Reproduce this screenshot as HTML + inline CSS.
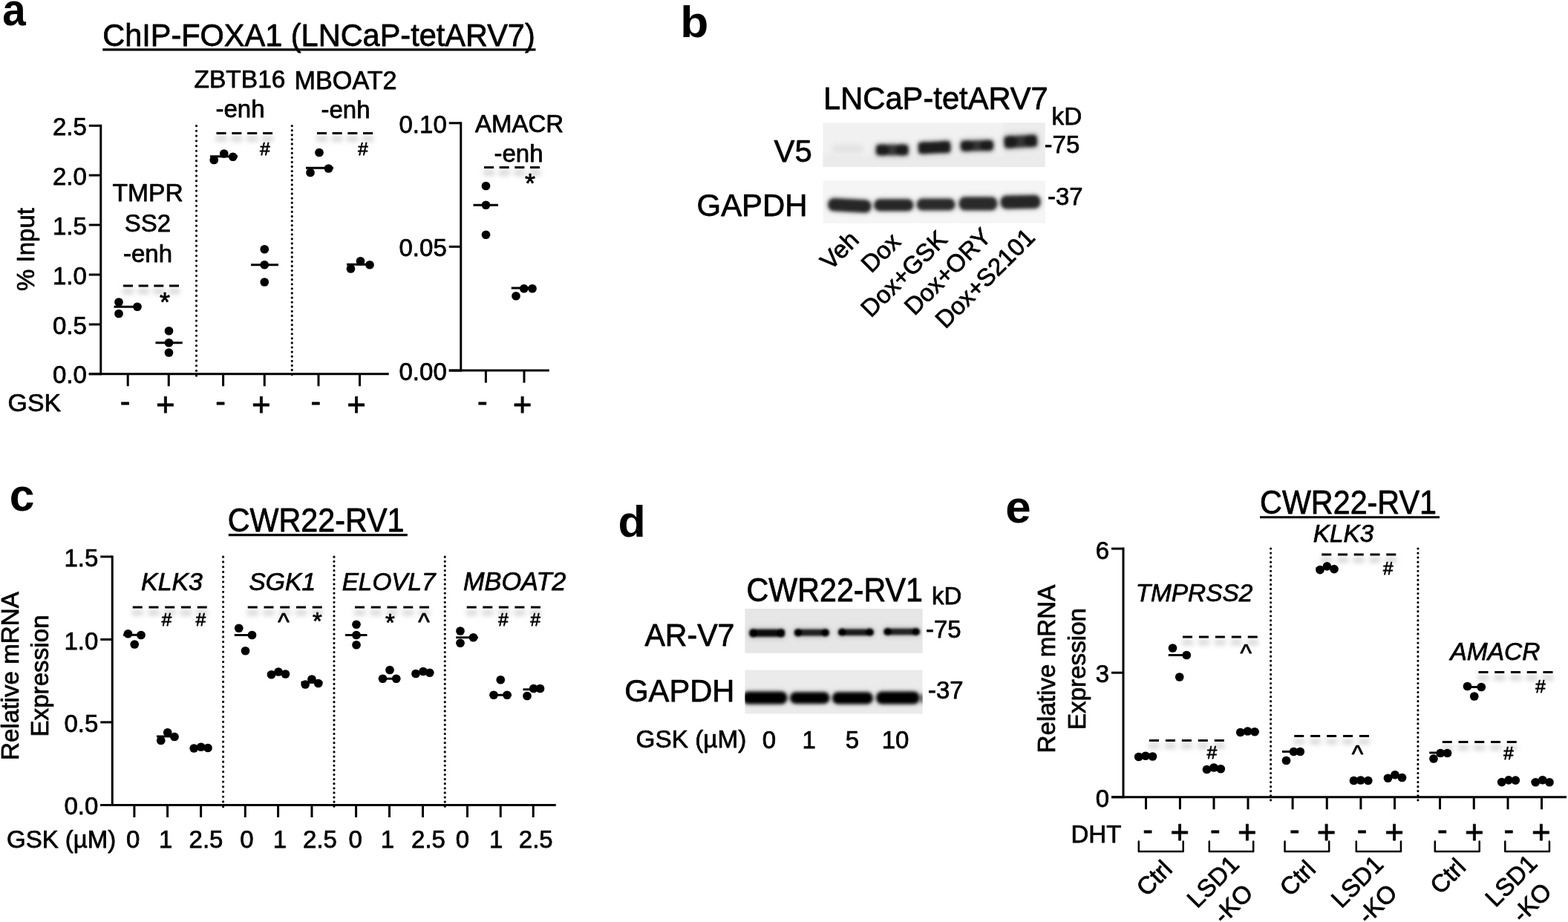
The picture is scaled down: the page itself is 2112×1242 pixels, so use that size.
<!DOCTYPE html>
<html lang="en"><head><meta charset="utf-8"><title>Figure</title>
<style>html,body{margin:0;padding:0;background:#fff;}body{width:2112px;height:1242px;overflow:hidden;}svg{display:block;font-family:"Liberation Sans",Arial,Helvetica,sans-serif;fill:#000;}text{stroke:#000;stroke-width:0.75px;stroke-linejoin:round;}</style>
</head><body>
<svg xmlns="http://www.w3.org/2000/svg" width="2112" height="1242" viewBox="0 0 2112 1242">
<defs><filter id="sh" filterUnits="userSpaceOnUse" x="0" y="0" width="2112" height="1242"><feGaussianBlur stdDeviation="3.2 3"/></filter><filter id="bl" x="-10%" y="-50%" width="120%" height="200%"><feGaussianBlur stdDeviation="1.9"/></filter><filter id="bs" x="-10%" y="-50%" width="120%" height="200%"><feGaussianBlur stdDeviation="1.5"/></filter><filter id="bh" x="-10%" y="-50%" width="120%" height="200%"><feGaussianBlur stdDeviation="3.2"/></filter></defs>
<rect width="2112" height="1242" fill="#fff"/>
<g id="pa">
<text x="0" y="0" font-size="58" font-weight="bold" style="stroke:none" transform="translate(3.34 33.60) scale(0.9765 1.0479)">a</text>
<text x="0" y="0" font-size="41.5" transform="translate(138.2 61.5) scale(1 1.035)">ChIP-FOXA1 (LNCaP-tetARV7)</text>
<line x1="138.2" y1="66.9" x2="721.5" y2="66.9" stroke="#000" stroke-width="3.1" />
<text x="323" y="118" font-size="33.5" text-anchor="middle">ZBTB16</text>
<text x="323.5" y="158" font-size="33" text-anchor="middle">-enh</text>
<text x="465.6" y="120" font-size="34.2" text-anchor="middle">MBOAT2</text>
<text x="465.5" y="159" font-size="33" text-anchor="middle">-enh</text>
<text x="199.1" y="271.25" font-size="33.6" text-anchor="middle">TMPR</text>
<text x="199" y="312" font-size="33" text-anchor="middle">SS2</text>
<text x="199" y="352.5" font-size="33" text-anchor="middle">-enh</text>
<text x="699.5" y="178" font-size="33" text-anchor="middle">AMACR</text>
<text x="698.5" y="218" font-size="33" text-anchor="middle">-enh</text>
<text x="45.5" y="336" font-size="33" text-anchor="middle" transform="rotate(-90 45.5 336)">% Input</text>
<text x="10.6" y="553.6" font-size="33.8">GSK</text>
<line x1="135.75" y1="167.8" x2="135.75" y2="505.25" stroke="#000" stroke-width="3.0" />
<line x1="119.75" y1="169.3" x2="135.75" y2="169.3" stroke="#000" stroke-width="3.0" />
<text x="116.75" y="181.814" font-size="33" text-anchor="end">2.5</text>
<line x1="119.75" y1="236.1" x2="135.75" y2="236.1" stroke="#000" stroke-width="3.0" />
<text x="116.75" y="248.61399999999998" font-size="33" text-anchor="end">2.0</text>
<line x1="119.75" y1="303" x2="135.75" y2="303" stroke="#000" stroke-width="3.0" />
<text x="116.75" y="315.51400000000007" font-size="33" text-anchor="end">1.5</text>
<line x1="119.75" y1="370" x2="135.75" y2="370" stroke="#000" stroke-width="3.0" />
<text x="116.75" y="382.51400000000007" font-size="33" text-anchor="end">1.0</text>
<line x1="119.75" y1="437" x2="135.75" y2="437" stroke="#000" stroke-width="3.0" />
<text x="116.75" y="449.51400000000007" font-size="33" text-anchor="end">0.5</text>
<line x1="119.75" y1="503.75" x2="135.75" y2="503.75" stroke="#000" stroke-width="3.0" />
<text x="116.75" y="516.264" font-size="33" text-anchor="end">0.0</text>
<line x1="119.75" y1="503.75" x2="523.75" y2="503.75" stroke="#000" stroke-width="3.0" />
<line x1="172.2" y1="503.75" x2="172.2" y2="520.25" stroke="#000" stroke-width="3.0" />
<line x1="227.25" y1="503.75" x2="227.25" y2="520.25" stroke="#000" stroke-width="3.0" />
<line x1="300.6" y1="503.75" x2="300.6" y2="520.25" stroke="#000" stroke-width="3.0" />
<line x1="356.25" y1="503.75" x2="356.25" y2="520.25" stroke="#000" stroke-width="3.0" />
<line x1="429" y1="503.75" x2="429" y2="520.25" stroke="#000" stroke-width="3.0" />
<line x1="484.5" y1="503.75" x2="484.5" y2="520.25" stroke="#000" stroke-width="3.0" />
<line x1="264.5" y1="169.6" x2="264.5" y2="507" stroke="#000" stroke-width="3.2" stroke-linecap="round" stroke-dasharray="0.01 6.72"/>
<line x1="393.25" y1="169.6" x2="393.25" y2="507" stroke="#000" stroke-width="3.2" stroke-linecap="round" stroke-dasharray="0.01 6.08"/>
<text x="168.6" y="554.0" font-size="41" text-anchor="middle">-</text>
<text x="222.95" y="560.1" font-size="44" text-anchor="middle">+</text>
<text x="297.0" y="554.0" font-size="41" text-anchor="middle">-</text>
<text x="351.95" y="560.1" font-size="44" text-anchor="middle">+</text>
<text x="425.4" y="554.0" font-size="41" text-anchor="middle">-</text>
<text x="480.2" y="560.1" font-size="44" text-anchor="middle">+</text>
<line x1="620.75" y1="164.3" x2="620.75" y2="500.6" stroke="#000" stroke-width="3.0" />
<line x1="604.75" y1="165.8" x2="620.75" y2="165.8" stroke="#000" stroke-width="3.0" />
<text x="601.75" y="178.714" font-size="33" text-anchor="end">0.10</text>
<line x1="604.75" y1="332.3" x2="620.75" y2="332.3" stroke="#000" stroke-width="3.0" />
<text x="601.75" y="345.21400000000006" font-size="33" text-anchor="end">0.05</text>
<line x1="604.75" y1="499.1" x2="620.75" y2="499.1" stroke="#000" stroke-width="3.0" />
<text x="601.75" y="512.014" font-size="33" text-anchor="end">0.00</text>
<line x1="604.75" y1="499.1" x2="739.75" y2="499.1" stroke="#000" stroke-width="3.0" />
<line x1="654.4" y1="499.1" x2="654.4" y2="515.6" stroke="#000" stroke-width="3.0" />
<line x1="706" y1="499.1" x2="706" y2="515.6" stroke="#000" stroke-width="3.0" />
<text x="649.8" y="554.0" font-size="41" text-anchor="middle">-</text>
<text x="703.5" y="560.1" font-size="44" text-anchor="middle">+</text>
<line x1="165" y1="392.5" x2="242" y2="392.5" stroke="#d8d8d8" stroke-width="7.5" stroke-dasharray="15.00 5.67" filter="url(#sh)"/>
<line x1="166" y1="385" x2="241" y2="385" stroke="#000" stroke-width="3" stroke-dasharray="13.00 7.67"/>
<line x1="290.5" y1="187.0" x2="368" y2="187.0" stroke="#d8d8d8" stroke-width="7.5" stroke-dasharray="15.00 5.83" filter="url(#sh)"/>
<line x1="291.5" y1="179.5" x2="367" y2="179.5" stroke="#000" stroke-width="3" stroke-dasharray="13.00 7.83"/>
<line x1="426" y1="187.0" x2="503" y2="187.0" stroke="#d8d8d8" stroke-width="7.5" stroke-dasharray="15.00 5.67" filter="url(#sh)"/>
<line x1="427" y1="179.5" x2="502" y2="179.5" stroke="#000" stroke-width="3" stroke-dasharray="13.00 7.67"/>
<line x1="651" y1="233.0" x2="728" y2="233.0" stroke="#d8d8d8" stroke-width="7.5" stroke-dasharray="15.00 5.67" filter="url(#sh)"/>
<line x1="652" y1="225.5" x2="727" y2="225.5" stroke="#000" stroke-width="3" stroke-dasharray="13.00 7.67"/>
<text x="222" y="419.6" font-size="36" text-anchor="middle">*</text>
<text x="356.5" y="209.0" font-size="24.5" text-anchor="middle" font-style="italic">#</text>
<text x="488.5" y="209.0" font-size="24.5" text-anchor="middle" font-style="italic">#</text>
<text x="714" y="259.5" font-size="36" text-anchor="middle">*</text>
<circle cx="160" cy="407" r="5.85"/>
<circle cx="185" cy="413.25" r="5.85"/>
<circle cx="160" cy="422.5" r="5.85"/>
<line x1="153.5" y1="413.25" x2="190" y2="413.25" stroke="#000" stroke-width="2.9" />
<circle cx="227.5" cy="445.75" r="5.85"/>
<circle cx="227.5" cy="461.75" r="5.85"/>
<circle cx="227.5" cy="475" r="5.85"/>
<line x1="209.5" y1="461.75" x2="245.75" y2="461.75" stroke="#000" stroke-width="2.9" />
<circle cx="288.25" cy="215.5" r="5.85"/>
<circle cx="301.75" cy="207" r="5.85"/>
<circle cx="313.75" cy="211.25" r="5.85"/>
<line x1="283" y1="210.8" x2="320" y2="210.8" stroke="#000" stroke-width="2.9" />
<circle cx="356.25" cy="335.75" r="5.85"/>
<circle cx="356.25" cy="356.75" r="5.85"/>
<circle cx="356.25" cy="380" r="5.85"/>
<line x1="338" y1="356.75" x2="375" y2="356.75" stroke="#000" stroke-width="2.9" />
<circle cx="430" cy="205.5" r="5.85"/>
<circle cx="418" cy="232.5" r="5.85"/>
<circle cx="442.5" cy="227" r="5.85"/>
<line x1="412" y1="226.25" x2="449" y2="226.25" stroke="#000" stroke-width="2.9" />
<circle cx="472.5" cy="362" r="5.85"/>
<circle cx="485.5" cy="351.75" r="5.85"/>
<circle cx="498" cy="356.75" r="5.85"/>
<line x1="467" y1="356.25" x2="503" y2="356.25" stroke="#000" stroke-width="2.9" />
<circle cx="654.5" cy="250.5" r="5.85"/>
<circle cx="654.5" cy="276.25" r="5.85"/>
<circle cx="654.5" cy="316.25" r="5.85"/>
<line x1="637.5" y1="276.25" x2="671" y2="276.25" stroke="#000" stroke-width="2.9" />
<circle cx="695" cy="398.75" r="5.85"/>
<circle cx="705.75" cy="388.75" r="5.85"/>
<circle cx="717" cy="388.75" r="5.85"/>
<line x1="688.75" y1="388" x2="722" y2="388" stroke="#000" stroke-width="2.9" />
</g>
<g id="pb">
<text x="0" y="0" font-size="58" font-weight="bold" style="stroke:none" transform="translate(916.29 49.72) scale(1.0744 1.0259)">b</text>
<text x="0" y="0" font-size="41.7" transform="translate(1109 147.3) scale(1 1.025)">LNCaP-tetARV7</text>
<text x="1416.5" y="168.3" font-size="33.3">kD</text>
<text x="1406.6" y="205.7" font-size="33">-75</text>
<text x="1411" y="276" font-size="33">-37</text>
<text x="1042.5" y="217.8" font-size="41.9">V5</text>
<text x="938.6" y="291.2" font-size="41.9">GAPDH</text>
<text x="1158.75" y="325" font-size="33" text-anchor="end" transform="rotate(-45 1158.75 325)">Veh</text>
<text x="1215" y="327.5" font-size="33" text-anchor="end" transform="rotate(-45 1215 327.5)">Dox</text>
<text x="1277.5" y="324.5" font-size="33" text-anchor="end" transform="rotate(-45 1277.5 324.5)">Dox+GSK</text>
<text x="1337" y="321" font-size="33" text-anchor="end" transform="rotate(-45 1337 321)">Dox+ORY</text>
<text x="1396" y="321.5" font-size="33" text-anchor="end" transform="rotate(-45 1396 321.5)">Dox+S2101</text>
<clipPath id="bc1"><rect x="1108.5" y="165.5" width="299.0" height="59.5"/></clipPath>
<g clip-path="url(#bc1)">
<rect x="1103.5" y="160.5" width="309.0" height="69.5" fill="#f1f1f1"/>
<rect x="1352" y="160" width="60" height="70" fill="#ececec"/><rect x="1121" y="194" width="42" height="14" rx="5" fill="#e4e4e4" filter="url(#bh)"/><rect x="1100" y="208" width="320" height="20" fill="#ebebeb" filter="url(#bh)"/>
<g filter="url(#bh)" opacity="0.55">
<rect x="1177.80" y="192.40" width="48.00" height="19.20" rx="6.20" fill="#8a8a8a"/>
<rect x="1234.80" y="188.60" width="47.70" height="20.20" rx="6.20" fill="#8a8a8a" transform="rotate(-2.5 1258.65 198.7)"/>
<rect x="1291.80" y="186.90" width="48.40" height="18.70" rx="6.20" fill="#8a8a8a" transform="rotate(-1.5 1316.0 196.25)"/>
<rect x="1350.30" y="180.20" width="48.90" height="20.80" rx="6.20" fill="#8a8a8a" transform="rotate(-3 1374.75 190.60000000000002)"/>
</g>
<g filter="url(#bl)">
<rect x="1180.30" y="194.90" width="43.00" height="14.20" rx="3.70" fill="#383838"/>
<ellipse cx="1189.00" cy="202.00" rx="9" ry="7.40" fill="#1c1c1c"/>
<ellipse cx="1214.60" cy="202.00" rx="9" ry="7.40" fill="#1c1c1c"/>
<rect x="1237.30" y="191.10" width="42.70" height="15.20" rx="3.70" fill="#1c1c1c" transform="rotate(-2.5 1258.65 198.7)"/>
<ellipse cx="1246.00" cy="198.70" rx="9" ry="7.90" fill="#1c1c1c" transform="rotate(-2.5 1258.65 198.7)"/>
<ellipse cx="1271.30" cy="198.70" rx="9" ry="7.90" fill="#1c1c1c" transform="rotate(-2.5 1258.65 198.7)"/>
<rect x="1294.30" y="189.40" width="43.40" height="13.70" rx="3.70" fill="#343434" transform="rotate(-1.5 1316.0 196.25)"/>
<ellipse cx="1303.00" cy="196.25" rx="9" ry="7.15" fill="#1c1c1c" transform="rotate(-1.5 1316.0 196.25)"/>
<ellipse cx="1329.00" cy="196.25" rx="9" ry="7.15" fill="#1c1c1c" transform="rotate(-1.5 1316.0 196.25)"/>
<rect x="1352.80" y="182.70" width="43.90" height="15.80" rx="3.70" fill="#363636" transform="rotate(-3 1374.75 190.60000000000002)"/>
<ellipse cx="1361.50" cy="190.60" rx="9" ry="8.20" fill="#1c1c1c" transform="rotate(-3 1374.75 190.60000000000002)"/>
<ellipse cx="1388.00" cy="190.60" rx="9" ry="8.20" fill="#1c1c1c" transform="rotate(-3 1374.75 190.60000000000002)"/>
</g>
</g>
<clipPath id="bc2"><rect x="1108.5" y="243.5" width="299.5" height="57.5"/></clipPath>
<g clip-path="url(#bc2)">
<rect x="1103.5" y="238.5" width="309.5" height="67.5" fill="#f5f5f5"/>
<g filter="url(#bh)" opacity="0.5">
<rect x="1113.70" y="266.50" width="61.30" height="20.50" rx="9.50" fill="#8a8a8a" transform="rotate(3 1144.35 276.75)"/>
<rect x="1175.80" y="266.80" width="56.00" height="18.90" rx="9.00" fill="#8a8a8a"/>
<rect x="1233.30" y="266.00" width="54.60" height="18.90" rx="9.00" fill="#8a8a8a"/>
<rect x="1290.20" y="263.70" width="54.50" height="21.20" rx="9.50" fill="#8a8a8a"/>
<rect x="1346.20" y="261.50" width="56.80" height="21.20" rx="9.50" fill="#8a8a8a" transform="rotate(-1 1374.6 272.1)"/>
</g>
<g filter="url(#bl)">
<rect x="1115.50" y="268.30" width="57.70" height="16.90" rx="7.70" fill="#262626" transform="rotate(3 1144.35 276.75)"/>
<rect x="1177.60" y="268.60" width="52.40" height="15.30" rx="7.20" fill="#262626"/>
<rect x="1235.10" y="267.80" width="51.00" height="15.30" rx="7.20" fill="#2c2c2c"/>
<rect x="1292.00" y="265.50" width="50.90" height="17.60" rx="7.70" fill="#2c2c2c"/>
<rect x="1348.00" y="263.30" width="53.20" height="17.60" rx="7.70" fill="#282828" transform="rotate(-1 1374.6 272.1)"/>
</g>
</g>
</g>
<g id="pc">
<text x="0" y="0" font-size="58" font-weight="bold" style="stroke:none" transform="translate(12.74 688.10) scale(1.0427 1.0573)">c</text>
<text x="0" y="0" font-size="41.3" transform="translate(425.6 715.9) scale(1 1.09)" text-anchor="middle">CWR22-RV1</text>
<line x1="307.8" y1="720.6" x2="548.8" y2="720.6" stroke="#000" stroke-width="3.1" />
<text x="24.5" y="910.5" font-size="33.2" text-anchor="middle" transform="rotate(-90 24.5 910.5)">Relative mRNA</text>
<text x="64.5" y="910.5" font-size="33.2" text-anchor="middle" transform="rotate(-90 64.5 910.5)">Expression</text>
<line x1="151.25" y1="748.4" x2="151.25" y2="1086.0" stroke="#000" stroke-width="3.0" />
<line x1="135.25" y1="749.9" x2="151.25" y2="749.9" stroke="#000" stroke-width="3.0" />
<text x="132.25" y="763.314" font-size="33" text-anchor="end">1.5</text>
<line x1="135.25" y1="861.4" x2="151.25" y2="861.4" stroke="#000" stroke-width="3.0" />
<text x="132.25" y="874.514" font-size="33" text-anchor="end">1.0</text>
<line x1="135.25" y1="972.9" x2="151.25" y2="972.9" stroke="#000" stroke-width="3.0" />
<text x="132.25" y="985.6139999999999" font-size="33" text-anchor="end">0.5</text>
<line x1="135.25" y1="1084.5" x2="151.25" y2="1084.5" stroke="#000" stroke-width="3.0" />
<text x="132.25" y="1096.714" font-size="33" text-anchor="end">0.0</text>
<line x1="135.25" y1="1084.5" x2="748.75" y2="1084.5" stroke="#000" stroke-width="3.0" />
<line x1="180.9" y1="1084.5" x2="180.9" y2="1101.0" stroke="#000" stroke-width="3.0" />
<line x1="225.6" y1="1084.5" x2="225.6" y2="1101.0" stroke="#000" stroke-width="3.0" />
<line x1="270.6" y1="1084.5" x2="270.6" y2="1101.0" stroke="#000" stroke-width="3.0" />
<line x1="330.3" y1="1084.5" x2="330.3" y2="1101.0" stroke="#000" stroke-width="3.0" />
<line x1="374.6" y1="1084.5" x2="374.6" y2="1101.0" stroke="#000" stroke-width="3.0" />
<line x1="420" y1="1084.5" x2="420" y2="1101.0" stroke="#000" stroke-width="3.0" />
<line x1="479.6" y1="1084.5" x2="479.6" y2="1101.0" stroke="#000" stroke-width="3.0" />
<line x1="524.5" y1="1084.5" x2="524.5" y2="1101.0" stroke="#000" stroke-width="3.0" />
<line x1="569.5" y1="1084.5" x2="569.5" y2="1101.0" stroke="#000" stroke-width="3.0" />
<line x1="629.5" y1="1084.5" x2="629.5" y2="1101.0" stroke="#000" stroke-width="3.0" />
<line x1="674.25" y1="1084.5" x2="674.25" y2="1101.0" stroke="#000" stroke-width="3.0" />
<line x1="718.25" y1="1084.5" x2="718.25" y2="1101.0" stroke="#000" stroke-width="3.0" />
<line x1="300.6" y1="750.2" x2="300.6" y2="1088" stroke="#000" stroke-width="3.2" stroke-linecap="round" stroke-dasharray="0.01 6.72"/>
<line x1="450" y1="750.2" x2="450" y2="1088" stroke="#000" stroke-width="3.2" stroke-linecap="round" stroke-dasharray="0.01 6.1"/>
<line x1="599.25" y1="750.2" x2="599.25" y2="1088" stroke="#000" stroke-width="3.2" stroke-linecap="round" stroke-dasharray="0.01 6.1"/>
<text x="9" y="1141.5" font-size="33">GSK (µM)</text>
<text x="179.25" y="1141.5" font-size="33" text-anchor="middle">0</text>
<text x="223.25" y="1141.5" font-size="33" text-anchor="middle">1</text>
<text x="277.5" y="1141.5" font-size="33" text-anchor="middle">2.5</text>
<text x="332.5" y="1141.5" font-size="33" text-anchor="middle">0</text>
<text x="377" y="1141.5" font-size="33" text-anchor="middle">1</text>
<text x="431" y="1141.5" font-size="33" text-anchor="middle">2.5</text>
<text x="478.75" y="1141.5" font-size="33" text-anchor="middle">0</text>
<text x="522" y="1141.5" font-size="33" text-anchor="middle">1</text>
<text x="577" y="1141.5" font-size="33" text-anchor="middle">2.5</text>
<text x="623" y="1141.5" font-size="33" text-anchor="middle">0</text>
<text x="668.25" y="1141.5" font-size="33" text-anchor="middle">1</text>
<text x="721.75" y="1141.5" font-size="33" text-anchor="middle">2.5</text>
<text x="231.5" y="795" font-size="33.9" text-anchor="middle" font-style="italic">KLK3</text>
<text x="380.2" y="795" font-size="33.7" text-anchor="middle" font-style="italic">SGK1</text>
<text x="523.6" y="795" font-size="33.3" text-anchor="middle" font-style="italic">ELOVL7</text>
<text x="693.2" y="795" font-size="34.3" text-anchor="middle" font-style="italic">MBOAT2</text>
<line x1="177.75" y1="825.5" x2="279.75" y2="825.5" stroke="#d8d8d8" stroke-width="7.5" stroke-dasharray="15.00 6.75" filter="url(#sh)"/>
<line x1="178.75" y1="818" x2="278.75" y2="818" stroke="#000" stroke-width="3" stroke-dasharray="13.00 8.75"/>
<line x1="332.75" y1="825.5" x2="434.75" y2="825.5" stroke="#d8d8d8" stroke-width="7.5" stroke-dasharray="15.00 6.75" filter="url(#sh)"/>
<line x1="333.75" y1="818" x2="433.75" y2="818" stroke="#000" stroke-width="3" stroke-dasharray="13.00 8.75"/>
<line x1="477" y1="825.5" x2="579" y2="825.5" stroke="#d8d8d8" stroke-width="7.5" stroke-dasharray="15.00 6.75" filter="url(#sh)"/>
<line x1="478" y1="818" x2="578" y2="818" stroke="#000" stroke-width="3" stroke-dasharray="13.00 8.75"/>
<line x1="627.75" y1="825.5" x2="729" y2="825.5" stroke="#d8d8d8" stroke-width="7.5" stroke-dasharray="15.00 6.56" filter="url(#sh)"/>
<line x1="628.75" y1="818" x2="728" y2="818" stroke="#000" stroke-width="3" stroke-dasharray="13.00 8.56"/>
<text x="224" y="842.5" font-size="24.5" text-anchor="middle" font-style="italic">#</text>
<text x="270" y="842.5" font-size="24.5" text-anchor="middle" font-style="italic">#</text>
<text x="382" y="849" font-size="33" text-anchor="middle">^</text>
<text x="427.5" y="847.5" font-size="33" text-anchor="middle">*</text>
<text x="525.5" y="849.5" font-size="33" text-anchor="middle">*</text>
<text x="571" y="849" font-size="33" text-anchor="middle">^</text>
<text x="677.5" y="842.5" font-size="24.5" text-anchor="middle" font-style="italic">#</text>
<text x="720.75" y="842.5" font-size="24.5" text-anchor="middle" font-style="italic">#</text>
<circle cx="172.5" cy="853.75" r="5.85"/>
<circle cx="190" cy="855.5" r="5.85"/>
<circle cx="181.25" cy="868" r="5.85"/>
<line x1="166" y1="855.3" x2="195" y2="855.3" stroke="#000" stroke-width="2.9" />
<circle cx="216.75" cy="997.5" r="5.85"/>
<circle cx="225.75" cy="986.75" r="5.85"/>
<circle cx="235" cy="992.5" r="5.85"/>
<line x1="211" y1="992" x2="240" y2="992" stroke="#000" stroke-width="2.9" />
<circle cx="261.25" cy="1008" r="5.85"/>
<circle cx="270.75" cy="1006.25" r="5.85"/>
<circle cx="280" cy="1007.5" r="5.85"/>
<line x1="256" y1="1007.3" x2="285" y2="1007.3" stroke="#000" stroke-width="2.9" />
<circle cx="321.75" cy="846.25" r="5.85"/>
<circle cx="339.5" cy="855.5" r="5.85"/>
<circle cx="330.5" cy="876.75" r="5.85"/>
<line x1="315.75" y1="855.5" x2="345" y2="855.5" stroke="#000" stroke-width="2.9" />
<circle cx="365.5" cy="908.75" r="5.85"/>
<circle cx="375" cy="905" r="5.85"/>
<circle cx="384.5" cy="908" r="5.85"/>
<line x1="360" y1="907.3" x2="389.5" y2="907.3" stroke="#000" stroke-width="2.9" />
<circle cx="411.25" cy="922" r="5.85"/>
<circle cx="420" cy="915" r="5.85"/>
<circle cx="428.75" cy="920.5" r="5.85"/>
<line x1="405.5" y1="919.2" x2="434.5" y2="919.2" stroke="#000" stroke-width="2.9" />
<circle cx="480" cy="841.25" r="5.85"/>
<circle cx="480" cy="855.5" r="5.85"/>
<circle cx="480" cy="868.75" r="5.85"/>
<line x1="465" y1="855.5" x2="494.5" y2="855.5" stroke="#000" stroke-width="2.9" />
<circle cx="515.5" cy="914.25" r="5.85"/>
<circle cx="525" cy="902.5" r="5.85"/>
<circle cx="533.75" cy="914.25" r="5.85"/>
<line x1="510" y1="914.25" x2="539" y2="914.25" stroke="#000" stroke-width="2.9" />
<circle cx="560" cy="907.5" r="5.85"/>
<circle cx="570" cy="904.5" r="5.85"/>
<circle cx="578.75" cy="906.25" r="5.85"/>
<line x1="555" y1="906" x2="584" y2="906" stroke="#000" stroke-width="2.9" />
<circle cx="620" cy="850" r="5.85"/>
<circle cx="637.5" cy="858.75" r="5.85"/>
<circle cx="620" cy="866.25" r="5.85"/>
<line x1="614.25" y1="858.75" x2="643.75" y2="858.75" stroke="#000" stroke-width="2.9" />
<circle cx="674.25" cy="915.75" r="5.85"/>
<circle cx="665" cy="936.25" r="5.85"/>
<circle cx="683" cy="936.25" r="5.85"/>
<line x1="660" y1="936.25" x2="689" y2="936.25" stroke="#000" stroke-width="2.9" />
<circle cx="710" cy="937.5" r="5.85"/>
<circle cx="718.75" cy="927.5" r="5.85"/>
<circle cx="727.5" cy="927.5" r="5.85"/>
<line x1="704.5" y1="928.75" x2="733" y2="928.75" stroke="#000" stroke-width="2.9" />
</g>
<g id="pd">
<text x="0" y="0" font-size="58" font-weight="bold" style="stroke:none" transform="translate(832.40 722.53) scale(1.0504 1.0095)">d</text>
<text x="0" y="0" font-size="41.25" transform="translate(1005.5 810.2) scale(1 1.085)">CWR22-RV1</text>
<text x="1255" y="813.75" font-size="33">kD</text>
<text x="1247" y="858.75" font-size="33">-75</text>
<text x="1250" y="941" font-size="33">-37</text>
<text x="0" y="0" font-size="41.1" transform="translate(868.4 870.4) scale(1 1.045)">AR-V7</text>
<text x="841.2" y="945" font-size="41.7">GAPDH</text>
<text x="856.6" y="1007" font-size="33.3">GSK (µM)</text>
<text x="1036" y="1007.5" font-size="33" text-anchor="middle">0</text>
<text x="1089.75" y="1007.5" font-size="33" text-anchor="middle">1</text>
<text x="1148" y="1007.5" font-size="33" text-anchor="middle">5</text>
<text x="1206" y="1007.5" font-size="33" text-anchor="middle">10</text>
<clipPath id="bc3"><rect x="1003.4" y="820" width="239.19999999999993" height="59.700000000000045"/></clipPath>
<g clip-path="url(#bc3)">
<rect x="998.4" y="815" width="249.19999999999993" height="69.70000000000005" fill="#e6e6e6"/>
<g filter="url(#bh)" opacity="0.5">
<rect x="1008.10" y="845.80" width="50.40" height="14.00" rx="5.20" fill="#8a8a8a"/>
<rect x="1068.60" y="845.70" width="49.40" height="12.90" rx="5.20" fill="#8a8a8a"/>
<rect x="1127.80" y="845.40" width="50.20" height="12.60" rx="5.20" fill="#8a8a8a"/>
<rect x="1189.20" y="844.80" width="51.00" height="12.40" rx="5.20" fill="#8a8a8a"/>
</g>
<g filter="url(#bs)">
<rect x="1009.60" y="847.80" width="47.40" height="10.00" rx="3.20" fill="#0a0a0a"/>
<ellipse cx="1014.80" cy="852.80" rx="5.5" ry="5.80" fill="#000"/>
<ellipse cx="1051.80" cy="852.80" rx="5.5" ry="5.80" fill="#000"/>
<rect x="1070.10" y="847.70" width="46.40" height="8.90" rx="3.20" fill="#202020"/>
<ellipse cx="1075.30" cy="852.15" rx="5.5" ry="5.25" fill="#000"/>
<ellipse cx="1111.30" cy="852.15" rx="5.5" ry="5.25" fill="#000"/>
<rect x="1129.30" y="847.40" width="47.20" height="8.60" rx="3.20" fill="#1a1a1a"/>
<ellipse cx="1134.50" cy="851.70" rx="5.5" ry="5.10" fill="#000"/>
<ellipse cx="1171.30" cy="851.70" rx="5.5" ry="5.10" fill="#000"/>
<rect x="1190.70" y="846.80" width="48.00" height="8.40" rx="3.20" fill="#202020"/>
<ellipse cx="1195.90" cy="851.00" rx="5.5" ry="5.00" fill="#000"/>
<ellipse cx="1233.50" cy="851.00" rx="5.5" ry="5.00" fill="#000"/>
</g>
</g>
<clipPath id="bc4"><rect x="1003.4" y="902.5" width="239.19999999999993" height="59.0"/></clipPath>
<g clip-path="url(#bc4)">
<rect x="998.4" y="897.5" width="249.19999999999993" height="69.0" fill="#ebebeb"/>
<g filter="url(#bh)" opacity="0.5">
<rect x="999.00" y="930.50" width="62.50" height="19.00" rx="9.00" fill="#8a8a8a"/>
<rect x="1063.00" y="931.30" width="55.50" height="17.70" rx="8.50" fill="#8a8a8a"/>
<rect x="1120.00" y="931.30" width="56.80" height="18.20" rx="8.50" fill="#8a8a8a"/>
<rect x="1179.00" y="930.50" width="60.70" height="19.00" rx="9.00" fill="#8a8a8a"/>
<rect x="1239.50" y="934.00" width="5.50" height="14.00" rx="2.00" fill="#8a8a8a"/>
</g>
<g filter="url(#bl)">
<rect x="1000.30" y="931.80" width="59.90" height="16.40" rx="7.70" fill="#000"/>
<rect x="1064.30" y="932.60" width="52.90" height="15.10" rx="7.20" fill="#000"/>
<rect x="1121.30" y="932.60" width="54.20" height="15.60" rx="7.20" fill="#000"/>
<rect x="1180.30" y="931.80" width="58.10" height="16.40" rx="7.70" fill="#000"/>
<rect x="1240.80" y="935.30" width="2.90" height="11.40" rx="1.00" fill="#222"/>
</g>
</g>
</g>
<g id="pe">
<text x="0" y="0" font-size="58" font-weight="bold" style="stroke:none" transform="translate(1354.28 704.40) scale(1.0675 1.0479)">e</text>
<text x="0" y="0" font-size="41.3" transform="translate(1816 691.8) scale(1 1.085)" text-anchor="middle">CWR22-RV1</text>
<line x1="1697" y1="696.7" x2="1939" y2="696.7" stroke="#000" stroke-width="3.1" />
<text x="1809.5" y="730.1" font-size="33.4" text-anchor="middle" font-style="italic">KLK3</text>
<text x="1608.5" y="809.7" font-size="33.4" text-anchor="middle" font-style="italic">TMPRSS2</text>
<text x="2014" y="889" font-size="33.5" text-anchor="middle" font-style="italic">AMACR</text>
<text x="1420.5" y="901" font-size="33.2" text-anchor="middle" transform="rotate(-90 1420.5 901)">Relative mRNA</text>
<text x="1461.5" y="901" font-size="33.2" text-anchor="middle" transform="rotate(-90 1461.5 901)">Expression</text>
<line x1="1513" y1="737.6" x2="1513" y2="1075.25" stroke="#000" stroke-width="3.0" />
<line x1="1497" y1="739.1" x2="1513" y2="739.1" stroke="#000" stroke-width="3.0" />
<text x="1494" y="752.514" font-size="33" text-anchor="end">6</text>
<line x1="1497" y1="906.2" x2="1513" y2="906.2" stroke="#000" stroke-width="3.0" />
<text x="1494" y="918.614" font-size="33" text-anchor="end">3</text>
<line x1="1497" y1="1073.75" x2="1513" y2="1073.75" stroke="#000" stroke-width="3.0" />
<text x="1494" y="1087.164" font-size="33" text-anchor="end">0</text>
<line x1="1497" y1="1073.75" x2="2110" y2="1073.75" stroke="#000" stroke-width="3.0" />
<line x1="1543.5" y1="1073.75" x2="1543.5" y2="1090.25" stroke="#000" stroke-width="3.0" />
<line x1="1589.4" y1="1073.75" x2="1589.4" y2="1090.25" stroke="#000" stroke-width="3.0" />
<line x1="1635" y1="1073.75" x2="1635" y2="1090.25" stroke="#000" stroke-width="3.0" />
<line x1="1681" y1="1073.75" x2="1681" y2="1090.25" stroke="#000" stroke-width="3.0" />
<line x1="1741.1" y1="1073.75" x2="1741.1" y2="1090.25" stroke="#000" stroke-width="3.0" />
<line x1="1787.25" y1="1073.75" x2="1787.25" y2="1090.25" stroke="#000" stroke-width="3.0" />
<line x1="1832.9" y1="1073.75" x2="1832.9" y2="1090.25" stroke="#000" stroke-width="3.0" />
<line x1="1878.5" y1="1073.75" x2="1878.5" y2="1090.25" stroke="#000" stroke-width="3.0" />
<line x1="1939.5" y1="1073.75" x2="1939.5" y2="1090.25" stroke="#000" stroke-width="3.0" />
<line x1="1985.25" y1="1073.75" x2="1985.25" y2="1090.25" stroke="#000" stroke-width="3.0" />
<line x1="2031" y1="1073.75" x2="2031" y2="1090.25" stroke="#000" stroke-width="3.0" />
<line x1="2076.5" y1="1073.75" x2="2076.5" y2="1090.25" stroke="#000" stroke-width="3.0" />
<line x1="1711.6" y1="739" x2="1711.6" y2="1078" stroke="#000" stroke-width="3.2" stroke-linecap="round" stroke-dasharray="0.01 6.04"/>
<line x1="1909.9" y1="739" x2="1909.9" y2="1078" stroke="#000" stroke-width="3.2" stroke-linecap="round" stroke-dasharray="0.01 6.04"/>
<text x="1442.5" y="1134.75" font-size="33">DHT</text>
<text x="1546.1" y="1130.6" font-size="41" text-anchor="middle">-</text>
<text x="1589.0" y="1135.7" font-size="44" text-anchor="middle">+</text>
<text x="1636.9" y="1130.6" font-size="41" text-anchor="middle">-</text>
<text x="1679.9" y="1135.7" font-size="44" text-anchor="middle">+</text>
<text x="1743.85" y="1130.6" font-size="41" text-anchor="middle">-</text>
<text x="1786.65" y="1135.7" font-size="44" text-anchor="middle">+</text>
<text x="1834.5" y="1130.6" font-size="41" text-anchor="middle">-</text>
<text x="1878.0" y="1135.7" font-size="44" text-anchor="middle">+</text>
<text x="1942.75" y="1130.6" font-size="41" text-anchor="middle">-</text>
<text x="1985.85" y="1135.7" font-size="44" text-anchor="middle">+</text>
<text x="2032.4" y="1130.6" font-size="41" text-anchor="middle">-</text>
<text x="2075.9" y="1135.7" font-size="44" text-anchor="middle">+</text>
<path d="M1533.8 1133.6V1146.9H1593.7V1133.6" fill="none" stroke="#000" stroke-width="2.5" stroke-linejoin="round" stroke-linecap="round"/>
<path d="M1628.8 1133.6V1146.9H1688.2V1133.6" fill="none" stroke="#000" stroke-width="2.5" stroke-linejoin="round" stroke-linecap="round"/>
<path d="M1730.55 1133.6V1146.9H1790.2V1133.6" fill="none" stroke="#000" stroke-width="2.5" stroke-linejoin="round" stroke-linecap="round"/>
<path d="M1826.8 1133.6V1146.9H1886.95V1133.6" fill="none" stroke="#000" stroke-width="2.5" stroke-linejoin="round" stroke-linecap="round"/>
<path d="M1932.8 1133.6V1146.9H1992.7V1133.6" fill="none" stroke="#000" stroke-width="2.5" stroke-linejoin="round" stroke-linecap="round"/>
<path d="M2027.3 1133.6V1146.9H2086.95V1133.6" fill="none" stroke="#000" stroke-width="2.5" stroke-linejoin="round" stroke-linecap="round"/>
<text x="1580.8" y="1172.8" font-size="33" text-anchor="end" transform="rotate(-45 1580.8 1172.8)">Ctrl</text>
<text x="1773.9" y="1172.8" font-size="33" text-anchor="end" transform="rotate(-45 1773.9 1172.8)">Ctrl</text>
<text x="1976.2" y="1170" font-size="33" text-anchor="end" transform="rotate(-45 1976.2 1170)">Ctrl</text>
<text x="1612.5" y="1224.7" font-size="33" transform="rotate(-45 1612.5 1224.7)">LSD1</text>
<text x="1806.8" y="1224.7" font-size="33" transform="rotate(-45 1806.8 1224.7)">LSD1</text>
<text x="2014.2" y="1223.5" font-size="33" transform="rotate(-45 2014.2 1223.5)">LSD1</text>
<text x="1689.6" y="1204.8" font-size="33" text-anchor="end" transform="rotate(-45 1689.6 1204.8)">-KO</text>
<text x="1883.9" y="1204.8" font-size="33" text-anchor="end" transform="rotate(-45 1883.9 1204.8)">-KO</text>
<text x="2091.9" y="1203.1" font-size="33" text-anchor="end" transform="rotate(-45 2091.9 1203.1)">-KO</text>
<line x1="1592" y1="865.5" x2="1694.75" y2="865.5" stroke="#d8d8d8" stroke-width="7.5" stroke-dasharray="15.00 6.94" filter="url(#sh)"/>
<line x1="1593" y1="858" x2="1693.75" y2="858" stroke="#000" stroke-width="3" stroke-dasharray="13.00 8.94"/>
<line x1="1547" y1="1005.0" x2="1649.75" y2="1005.0" stroke="#d8d8d8" stroke-width="7.5" stroke-dasharray="15.00 6.94" filter="url(#sh)"/>
<line x1="1548" y1="997.5" x2="1648.75" y2="997.5" stroke="#000" stroke-width="3" stroke-dasharray="13.00 8.94"/>
<line x1="1779.25" y1="754.5" x2="1881.25" y2="754.5" stroke="#d8d8d8" stroke-width="7.5" stroke-dasharray="15.00 6.75" filter="url(#sh)"/>
<line x1="1780.25" y1="747" x2="1880.25" y2="747" stroke="#000" stroke-width="3" stroke-dasharray="13.00 8.75"/>
<line x1="1742.25" y1="999.0" x2="1845" y2="999.0" stroke="#d8d8d8" stroke-width="7.5" stroke-dasharray="15.00 6.94" filter="url(#sh)"/>
<line x1="1743.25" y1="991.5" x2="1844" y2="991.5" stroke="#000" stroke-width="3" stroke-dasharray="13.00 8.94"/>
<line x1="1990.5" y1="913.0" x2="2092.5" y2="913.0" stroke="#d8d8d8" stroke-width="7.5" stroke-dasharray="15.00 6.75" filter="url(#sh)"/>
<line x1="1991.5" y1="905.5" x2="2091.5" y2="905.5" stroke="#000" stroke-width="3" stroke-dasharray="13.00 8.75"/>
<line x1="1941.75" y1="1007.0" x2="2043.75" y2="1007.0" stroke="#d8d8d8" stroke-width="7.5" stroke-dasharray="15.00 6.75" filter="url(#sh)"/>
<line x1="1942.75" y1="999.5" x2="2042.75" y2="999.5" stroke="#000" stroke-width="3" stroke-dasharray="13.00 8.75"/>
<text x="1678.25" y="890.8" font-size="33" text-anchor="middle">^</text>
<text x="1632" y="1022.0" font-size="24.5" text-anchor="middle" font-style="italic">#</text>
<text x="1869.3" y="774.4" font-size="24.5" text-anchor="middle" font-style="italic">#</text>
<text x="1828.5" y="1027" font-size="33" text-anchor="middle">^</text>
<text x="2074.5" y="932.5" font-size="24.5" text-anchor="middle" font-style="italic">#</text>
<text x="2031.5" y="1023.3" font-size="24.5" text-anchor="middle" font-style="italic">#</text>
<circle cx="1533.75" cy="1019.5" r="5.85"/>
<circle cx="1543" cy="1018.25" r="5.85"/>
<circle cx="1552.5" cy="1019" r="5.85"/>
<line x1="1528" y1="1019" x2="1558" y2="1019" stroke="#000" stroke-width="2.9" />
<circle cx="1579.5" cy="873" r="5.85"/>
<circle cx="1598.25" cy="882.5" r="5.85"/>
<circle cx="1588.75" cy="912" r="5.85"/>
<line x1="1573.75" y1="882.5" x2="1603" y2="882.5" stroke="#000" stroke-width="2.9" />
<circle cx="1625.5" cy="1036.5" r="5.85"/>
<circle cx="1635" cy="1034" r="5.85"/>
<circle cx="1644.25" cy="1035.75" r="5.85"/>
<line x1="1620" y1="1035.5" x2="1650" y2="1035.5" stroke="#000" stroke-width="2.9" />
<circle cx="1670.75" cy="986.5" r="5.85"/>
<circle cx="1680.5" cy="985" r="5.85"/>
<circle cx="1690" cy="985.75" r="5.85"/>
<line x1="1666" y1="985.75" x2="1695.5" y2="985.75" stroke="#000" stroke-width="2.9" />
<circle cx="1732.5" cy="1024.5" r="5.85"/>
<circle cx="1742.5" cy="1012.5" r="5.85"/>
<circle cx="1751.25" cy="1012.5" r="5.85"/>
<line x1="1727" y1="1012.5" x2="1756" y2="1012.5" stroke="#000" stroke-width="2.9" />
<circle cx="1778" cy="767.6" r="5.85"/>
<circle cx="1787.4" cy="762.8" r="5.85"/>
<circle cx="1797" cy="766.6" r="5.85"/>
<line x1="1772.5" y1="765.5" x2="1802" y2="765.5" stroke="#000" stroke-width="2.9" />
<circle cx="1823.5" cy="1051.5" r="5.85"/>
<circle cx="1832.75" cy="1051" r="5.85"/>
<circle cx="1842.75" cy="1051.5" r="5.85"/>
<line x1="1818" y1="1051.3" x2="1848" y2="1051.3" stroke="#000" stroke-width="2.9" />
<circle cx="1869.5" cy="1048.25" r="5.85"/>
<circle cx="1879" cy="1043.75" r="5.85"/>
<circle cx="1888.5" cy="1047.5" r="5.85"/>
<line x1="1864" y1="1046.5" x2="1893.5" y2="1046.5" stroke="#000" stroke-width="2.9" />
<circle cx="1931" cy="1022" r="5.85"/>
<circle cx="1940.25" cy="1014.5" r="5.85"/>
<circle cx="1949.5" cy="1014.5" r="5.85"/>
<line x1="1925.25" y1="1014" x2="1954.5" y2="1014" stroke="#000" stroke-width="2.9" />
<circle cx="1976.5" cy="924.5" r="5.85"/>
<circle cx="1995.25" cy="925.5" r="5.85"/>
<circle cx="1985.75" cy="938" r="5.85"/>
<line x1="1971" y1="925.5" x2="2000.5" y2="925.5" stroke="#000" stroke-width="2.9" />
<circle cx="2022.75" cy="1053.6" r="5.85"/>
<circle cx="2032" cy="1050.8" r="5.85"/>
<circle cx="2041.3" cy="1051.1" r="5.85"/>
<line x1="2017" y1="1052.3" x2="2046.5" y2="1052.3" stroke="#000" stroke-width="2.9" />
<circle cx="2068.25" cy="1053.75" r="5.85"/>
<circle cx="2077.75" cy="1050.75" r="5.85"/>
<circle cx="2087" cy="1053.75" r="5.85"/>
<line x1="2062.5" y1="1052.75" x2="2092" y2="1052.75" stroke="#000" stroke-width="2.9" />
</g>
</svg></body></html>
